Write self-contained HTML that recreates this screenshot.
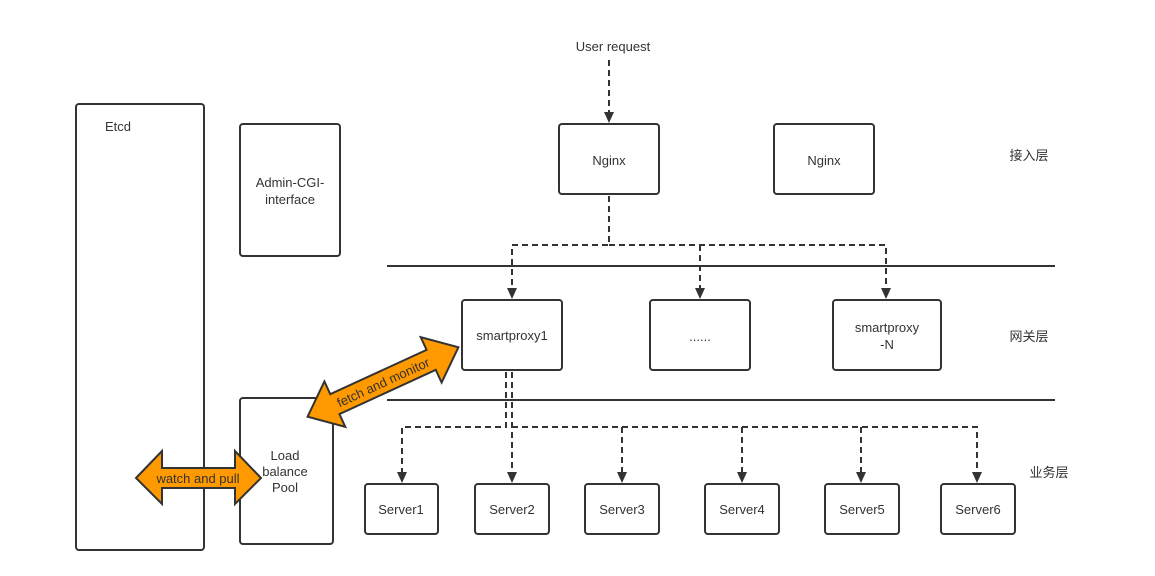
<!DOCTYPE html>
<html><head><meta charset="utf-8"><style>
body{margin:0;background:#fff;}
svg{display:block;font-family:"Liberation Sans","Noto Sans CJK SC",sans-serif;}
</style></head><body>
<svg width="1155" height="576" viewBox="0 0 1155 576" xmlns="http://www.w3.org/2000/svg">
<defs><marker id="a" markerWidth="10" markerHeight="10" refX="5" refY="9" orient="auto" markerUnits="userSpaceOnUse"><path d="M0,0 L10,0 L5,10z" fill="#333" transform="rotate(0)"/></marker></defs>
<g fill="none" stroke="#333" stroke-width="2">
<rect x="76" y="104" width="128" height="446" rx="3"/>
<rect x="240" y="124" width="100" height="132" rx="3"/>
<rect x="240" y="398" width="93" height="146" rx="3"/>
<rect x="559" y="124" width="100" height="70" rx="3"/>
<rect x="774" y="124" width="100" height="70" rx="3"/>
<rect x="462" y="300" width="100" height="70" rx="3"/>
<rect x="650" y="300" width="100" height="70" rx="3"/>
<rect x="833" y="300" width="108" height="70" rx="3"/>
<rect x="365" y="484" width="73" height="50" rx="3"/>
<rect x="475" y="484" width="74" height="50" rx="3"/>
<rect x="585" y="484" width="74" height="50" rx="3"/>
<rect x="705" y="484" width="74" height="50" rx="3"/>
<rect x="825" y="484" width="74" height="50" rx="3"/>
<rect x="941" y="484" width="74" height="50" rx="3"/>
<line x1="387" y1="266" x2="1055" y2="266"/>
<line x1="387" y1="400" x2="1055" y2="400"/>
</g>
<g fill="none" stroke="#333" stroke-width="2" stroke-dasharray="6,4">
<path d="M609,60 V114"/>
<path d="M609,196 V245 H512 V290"/>
<path d="M609,245 H886 V290"/>
<path d="M700,245 V290"/>
<path d="M506,372 V427 H402 V472"/>
<path d="M512,372 V472"/>
<path d="M512,427 H977 V472"/>
<path d="M622,427 V472"/><path d="M742,427 V472"/><path d="M861,427 V472"/>
</g>
<g fill="#333">
<path d="M604,112 L614,112 L609,123z"/>
<path d="M507,288 L517,288 L512,299z"/><path d="M695,288 L705,288 L700,299z"/><path d="M881,288 L891,288 L886,299z"/>
<path d="M397,472 L407,472 L402,483z"/><path d="M507,472 L517,472 L512,483z"/><path d="M617,472 L627,472 L622,483z"/><path d="M737,472 L747,472 L742,483z"/><path d="M856,472 L866,472 L861,483z"/><path d="M972,472 L982,472 L977,483z"/>
</g>
<g font-size="13" fill="#333" text-anchor="middle">
<text x="613" y="51">User request</text>
<text x="105" y="131" text-anchor="start">Etcd</text>
<text x="290" y="187">Admin-CGI-</text><text x="290" y="204">interface</text>
<text x="285" y="460">Load</text><text x="285" y="476">balance</text><text x="285" y="492">Pool</text>
<text x="609" y="165">Nginx</text><text x="824" y="165">Nginx</text>
<text x="512" y="340">smartproxy1</text>
<text x="700" y="341">......</text>
<text x="887" y="332">smartproxy</text><text x="887" y="349">-N</text>
<text x="401" y="514">Server1</text><text x="512" y="514">Server2</text><text x="622" y="514">Server3</text><text x="742" y="514">Server4</text><text x="862" y="514">Server5</text><text x="978" y="514">Server6</text>
<text x="1029" y="160">接入层</text><text x="1029" y="341">网关层</text><text x="1049" y="477">业务层</text>
</g>
<path d="M136,478 L162,451 L162,468 L235,468 L235,451 L261,478 L235,504 L235,488 L162,488 L162,504z" fill="#f90" stroke="#333" stroke-width="2"/>
<text x="198" y="483" font-size="13" fill="#333" text-anchor="middle">watch and pull</text>
<g transform="translate(383,382) rotate(-24.7)">
<path d="M-83,0 L-53,-25 L-53,-11 L53,-11 L53,-25 L83,0 L53,25 L53,11 L-53,11 L-53,25z" fill="#f90" stroke="#333" stroke-width="2"/>
<text x="0" y="5" font-size="13" fill="#333" text-anchor="middle">fetch and monitor</text>
</g>
</svg>
</body></html>
